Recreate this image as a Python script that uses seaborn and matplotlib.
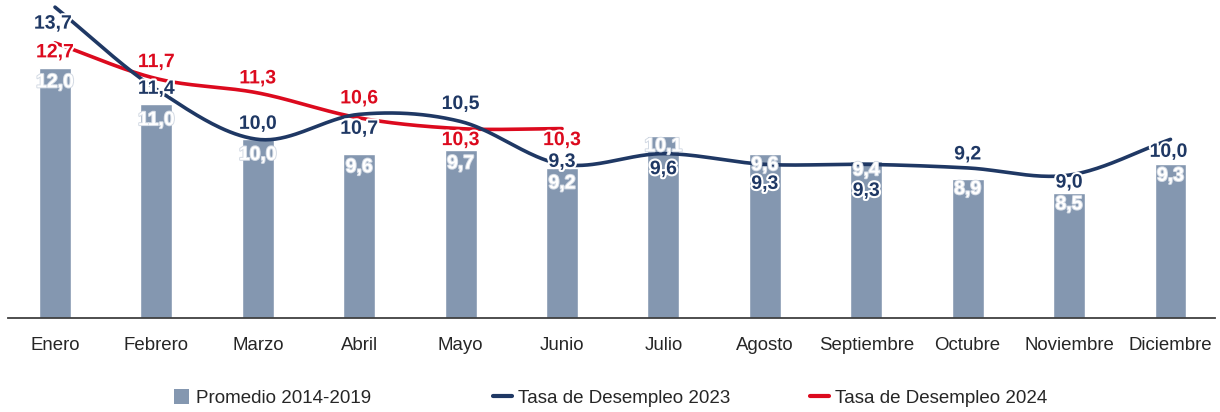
import numpy as np
import pandas as pd
import matplotlib
matplotlib.use("Agg")
import matplotlib.pyplot as plt
import matplotlib.patches as mpatches
import matplotlib.patheffects as pe
from matplotlib.lines import Line2D
import seaborn as sns

# ---------------- data ----------------
months = ["Enero", "Febrero", "Marzo", "Abril", "Mayo", "Junio", "Julio",
          "Agosto", "Septiembre", "Octubre", "Noviembre", "Diciembre"]
promedio_2014_2019 = [12.0, 11.0, 10.0, 9.6, 9.7, 9.2, 10.1, 9.6, 9.4, 8.9, 8.5, 9.3]
tasa_2023 = [13.7, 11.4, 10.0, 10.7, 10.5, 9.3, 9.6, 9.3, 9.3, 9.2, 9.0, 10.0]
tasa_2024 = [12.7, 11.7, 11.3, 10.6, 10.3, 10.3]
series_names = ["Promedio 2014-2019", "Tasa de Desempleo 2023", "Tasa de Desempleo 2024"]

# ---------------- style ----------------
BAR_C = "#8497B0"
NAVY = "#1F3864"
RED = "#DC0A1E"
TXT = "#262626"

# label offsets in pixels (positive = downward)
bar_dy = [15, 17, 16, 14, 14, 16, 11, 12, 10, 11, 12, 12]
l23_dy = [17, 0, -15, 15, -17, -2, 16, 20, 27, -13, 8, 13]
l23_dx = [-2, 0, 0, 0, 0, 0, 0, 0, 0, 0, 0, -2]
l24_dy = [10, -16, -14, -19, 12, 12]

sns.set_theme(style="white")
plt.rcParams["font.family"] = ["Liberation Sans", "DejaVu Sans"]

W, H = 1220, 412
fig = plt.figure(figsize=(W / 100, H / 100), dpi=100)
ax_left, ax_right, ax_bottom, ax_top = 8, 1215, 318, 0
ax = fig.add_axes([ax_left / W, 1 - ax_bottom / H, (ax_right - ax_left) / W, (ax_bottom - ax_top) / H])

df = pd.DataFrame({"mes": months, "valor": promedio_2014_2019})
sns.barplot(data=df, x="mes", y="valor", order=months, color=BAR_C, width=0.315,
            saturation=1, ax=ax, zorder=1)


def catmull_rom(xs, ys, n=40):
    pts = np.column_stack([xs, ys]).astype(float)
    if len(pts) < 2:
        return pts
    P = np.vstack([2 * pts[0] - pts[1], pts, 2 * pts[-1] - pts[-2]])
    out = []
    t = np.linspace(0, 1, n, endpoint=False)[:, None]
    for i in range(1, len(P) - 2):
        p0, p1, p2, p3 = P[i - 1], P[i], P[i + 1], P[i + 2]
        seg = 0.5 * ((2 * p1) + (-p0 + p2) * t + (2 * p0 - 5 * p1 + 4 * p2 - p3) * t ** 2
                     + (-p0 + 3 * p1 - 3 * p2 + p3) * t ** 3)
        out.append(seg)
    out.append(pts[-1:])
    return np.vstack(out)


x23 = np.arange(len(tasa_2023))
x24 = np.arange(len(tasa_2024))
s23 = catmull_rom(x23, tasa_2023)
s24 = catmull_rom(x24, tasa_2024)
sns.lineplot(x=s23[:, 0], y=s23[:, 1], sort=False, estimator=None, color=NAVY,
             linewidth=2.6, ax=ax, zorder=3)
sns.lineplot(x=s24[:, 0], y=s24[:, 1], sort=False, estimator=None, color=RED,
             linewidth=2.6, ax=ax, zorder=2)

ax.set_ylim(5, 13.9)
sx = 101.4
ax.set_xlim(-(55 - ax_left) / sx, 11 + (ax_right - 1170.5) / sx)


def fmt(v):
    return f"{v:.1f}".replace(".", ",")


LBL_FS = 14
for i, v in enumerate(promedio_2014_2019):
    ax.annotate(fmt(v), (i, v), xytext=(0, -bar_dy[i]), textcoords="offset pixels",
                ha="center", va="center", fontsize=LBL_FS, fontweight="bold", color="white",
                path_effects=[pe.withStroke(linewidth=1.4, foreground="#d3dae4")], zorder=5)
for i, v in enumerate(tasa_2023):
    ax.annotate(fmt(v), (i, v), xytext=(l23_dx[i], -l23_dy[i]), textcoords="offset pixels",
                ha="center", va="center", fontsize=LBL_FS, fontweight="bold", color=NAVY,
                path_effects=[pe.withStroke(linewidth=3, foreground="white")], zorder=6)
for i, v in enumerate(tasa_2024):
    ax.annotate(fmt(v), (i, v), xytext=(0, -l24_dy[i]), textcoords="offset pixels",
                ha="center", va="center", fontsize=LBL_FS, fontweight="bold", color=RED,
                path_effects=[pe.withStroke(linewidth=3, foreground="white")], zorder=6)

ax.set_xlabel("")
ax.set_ylabel("")
ax.set_yticks([])
ax.tick_params(axis="x", length=0, pad=14, labelsize=13.4, labelcolor=TXT)
for s in ["left", "right", "top"]:
    ax.spines[s].set_visible(False)
ax.spines["bottom"].set_color("#404040")
ax.spines["bottom"].set_linewidth(1.3)
ax.patch.set_alpha(0)

# legend: three separate entries placed like the reference
LEG_FS = 13.5
leg_y = 1 - 398 / H
entries = [
    (mpatches.Rectangle((0, 0), 1, 1, facecolor=BAR_C, edgecolor="none"), series_names[0], 174, 0.8, 0.8, 0.37),
    (Line2D([], [], color=NAVY, linewidth=3), series_names[1], 493, 1.0, 0.7, 0.32),
    (Line2D([], [], color=RED, linewidth=3), series_names[2], 810, 1.0, 0.7, 0.32),
]
for h, lab, x0, hl, hh, tp in entries:
    fig.legend([h], [lab], loc="center left", bbox_to_anchor=(x0 / W, leg_y),
               frameon=False, fontsize=LEG_FS, handlelength=hl, handleheight=hh,
               handletextpad=tp, borderpad=0, borderaxespad=0, labelcolor=TXT)

fig.savefig("out.png", dpi=100)
